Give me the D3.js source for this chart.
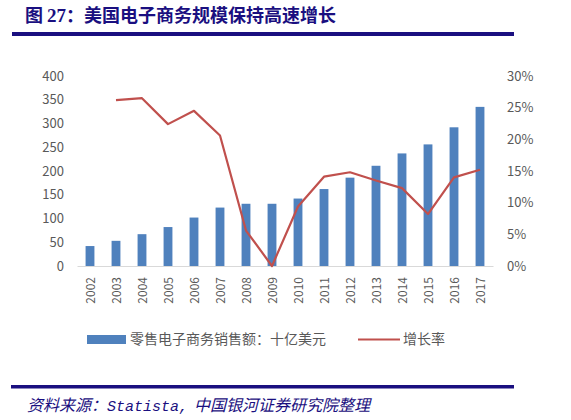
<!DOCTYPE html>
<html>
<head>
<meta charset="utf-8">
<script src="https://cdn.jsdelivr.net/npm/d3@7"></script>
<style>
  body { margin: 0; background: #fff; }
  svg { display: block; }
  text { font-family: "Noto Sans CJK SC", "Noto Sans", sans-serif; }
</style>
</head>
<body>
<div id="chart"></div>
<script>
// data
var years = ["2002", "2003", "2004", "2005", "2006", "2007", "2008", "2009",
             "2010", "2011", "2012", "2013", "2014", "2015", "2016", "2017"];
var sales = [42, 53, 67, 82, 102, 123, 131, 131, 142, 162, 186, 211, 237, 256, 292, 335];
var growth = [null, 26.2, 26.5, 22.4, 24.5, 20.6, 5.6, 0, 9.4, 14.1, 14.8, 13.5, 12.3, 8.2, 14.0, 15.2];
var leftTicks = [0, 50, 100, 150, 200, 250, 300, 350, 400];
var rightTicks = [0, 5, 10, 15, 20, 25, 30];

var svgWidth = 571, svgHeight = 420;
var margin = { top: 76, left: 77, right: 78, bottom: 154 };
var width = svgWidth - margin.left - margin.right;
var height = svgHeight - margin.top - margin.bottom;

var navy = "#1a0f80";
var gray = "#595959";
var barColor = "#4f81bd";
var lineColor = "#c0504d";

var svg = d3.select("#chart")
  .append("svg")
  .attr("width", svgWidth)
  .attr("height", svgHeight);

// title and rules
var title = svg.append("text")
  .attr("x", 25)
  .attr("y", 22)
  .attr("fill", navy)
  .attr("font-size", "18px")
  .attr("font-weight", "bold");
title.append("tspan").text("图 ");
title.append("tspan")
  .attr("font-family", "'Liberation Serif', serif")
  .attr("font-size", "19px")
  .text("27");
title.append("tspan").text("：美国电子商务规模保持高速增长");

svg.append("rect")
  .attr("x", 12).attr("y", 32)
  .attr("width", 502).attr("height", 4)
  .attr("fill", navy);

svg.append("rect")
  .attr("x", 11).attr("y", 385)
  .attr("width", 503).attr("height", 3.5)
  .attr("fill", navy);

var source = svg.append("text")
  .attr("x", 27)
  .attr("y", 411)
  .attr("fill", navy)
  .attr("font-size", "16px")
  .attr("font-style", "italic");
source.append("tspan").text("资料来源：");
source.append("tspan")
  .attr("font-family", "'Liberation Mono', monospace")
  .attr("font-size", "15px")
  .text("Statista,");
source.append("tspan").attr("dx", 6).text("中国银河证券研究院整理");

var chartGroup = svg.append("g")
  .attr("transform", `translate(${margin.left}, ${margin.top})`);

// scales
var xScale = d3.scaleBand()
  .domain(years)
  .range([0, width])
  .paddingInner(0.66)
  .paddingOuter(0.33);

var yLeft = d3.scaleLinear().domain([0, 400]).range([height, 0]);
var yRight = d3.scaleLinear().domain([0, 30]).range([height, 0]);

// left axis
var leftAxis = d3.axisLeft(yLeft).tickValues(leftTicks).tickSize(0).tickPadding(13);
var gLeft = chartGroup.append("g").call(leftAxis);
gLeft.select(".domain").remove();
gLeft.selectAll("text")
  .attr("fill", gray)
  .attr("font-size", "13px")
  .attr("font-family", "'Open Sans', 'Noto Sans', sans-serif");

// right axis
var rightAxis = d3.axisRight(yRight).tickValues(rightTicks).tickSize(0).tickPadding(14)
  .tickFormat(d => d + "%");
var gRight = chartGroup.append("g")
  .attr("transform", `translate(${width}, 0)`)
  .call(rightAxis);
gRight.select(".domain").remove();
gRight.selectAll("text")
  .attr("fill", gray)
  .attr("font-size", "13px")
  .attr("font-family", "'Open Sans', 'Noto Sans', sans-serif");

// bars
chartGroup.selectAll(".bar")
  .data(sales)
  .enter()
  .append("rect")
  .attr("class", "bar")
  .attr("x", (d, i) => xScale(years[i]))
  .attr("y", d => yLeft(d))
  .attr("width", xScale.bandwidth())
  .attr("height", d => height - yLeft(d))
  .attr("fill", barColor);

// x axis
var bottomAxis = d3.axisBottom(xScale).tickSize(0).tickPadding(0);
var gBottom = chartGroup.append("g")
  .attr("transform", `translate(0, ${height})`)
  .call(bottomAxis);
gBottom.select(".domain").attr("stroke", "#d9d9d9").attr("stroke-width", 1);
gBottom.selectAll("text")
  .attr("fill", gray)
  .attr("font-size", "12px")
  .attr("font-family", "'Open Sans', 'Noto Sans', sans-serif")
  .attr("text-anchor", "end")
  .attr("dy", "0.35em")
  .attr("transform", "translate(1, 11) rotate(-90)")
  .attr("x", 0)
  .attr("y", 0);

// growth line
var line = d3.line()
  .defined(d => d !== null)
  .x((d, i) => xScale(years[i]) + xScale.bandwidth() / 2)
  .y(d => yRight(d));

chartGroup.append("path")
  .datum(growth)
  .attr("d", line)
  .attr("fill", "none")
  .attr("stroke", lineColor)
  .attr("stroke-width", 2.2)
  .attr("stroke-linejoin", "round");

// legend
var legend = svg.append("g");
legend.append("rect")
  .attr("x", 87).attr("y", 335)
  .attr("width", 39).attr("height", 9)
  .attr("fill", barColor);
legend.append("text")
  .attr("x", 130).attr("y", 344)
  .attr("fill", gray)
  .attr("font-size", "14px")
  .text("零售电子商务销售额：十亿美元");
legend.append("line")
  .attr("x1", 358).attr("x2", 400)
  .attr("y1", 339.5).attr("y2", 339.5)
  .attr("stroke", lineColor)
  .attr("stroke-width", 2.2);
legend.append("text")
  .attr("x", 403).attr("y", 344)
  .attr("fill", gray)
  .attr("font-size", "14px")
  .text("增长率");
</script>
</body>
</html>
